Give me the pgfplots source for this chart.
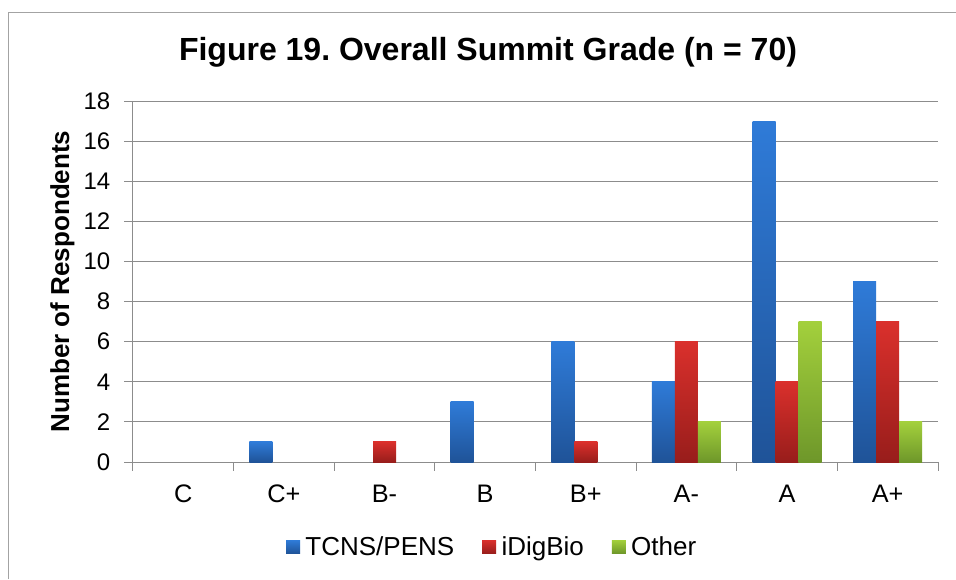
\documentclass[border=0pt]{standalone}
\usepackage{fontspec}
\setmainfont{Liberation Sans}
\usepackage{pgfplots}
\usepackage{pgfplotstable}
\pgfplotsset{compat=1.18}
\definecolor{bT}{HTML}{2F7BD8}
\definecolor{bB}{HTML}{1F5398}
\definecolor{rT}{HTML}{DA302C}
\definecolor{rB}{HTML}{981D1B}
\definecolor{gT}{HTML}{A3D03C}
\definecolor{gB}{HTML}{6E972A}
\definecolor{gridc}{HTML}{8C8C8C}
% x: 0=C 1=C+ 2=B- 3=B 4=B+ 5=A- 6=A 7=A+
\pgfplotstableread{
x y
0 0
1 1
2 0
3 3
4 6
5 4
6 17
7 9
}\tcns
\pgfplotstableread{
x y
0 0
1 0
2 1
3 0
4 1
5 6
6 4
7 7
}\idig
\pgfplotstableread{
x y
0 0
1 0
2 0
3 0
4 0
5 2
6 7
7 2
}\other
\begin{document}
\frenchspacing
\begin{tikzpicture}[x=0.75pt,y=-0.75pt]
\path[use as bounding box] (0,0) rectangle (956,579);
\draw[gridc!80, line width=0.75pt] (8,579) -- (8,12) -- (956,12);
\node[font=\fontsize{24}{28}\selectfont\bfseries] at (488,52) {Figure 19. Overall Summit Grade (n = 70)};
\begin{axis}[
  at={(99.75pt,-346.5pt)}, anchor=south west,
  width=603.75pt, height=270.75pt, scale only axis,
  xmin=-0.5, xmax=7.5, ymin=0, ymax=18,
  ytick={0,2,...,18},
  xtick={-0.5,0.5,...,7.5},
  xticklabels={C,C+,B-,B,B+,A-,A,A+,{}},
  xticklabel style={xshift=37.7pt, yshift=-7pt, font=\fontsize{19}{22}\selectfont},
  yticklabel style={xshift=-7pt, font=\fontsize{18}{21}\selectfont},
  axis lines*=left,
  axis line style={gridc, line width=0.75pt},
  tick style={gridc, line width=0.75pt},
  tick align=outside, major tick length=6.5pt,
  ymajorgrids, grid style={gridc, line width=0.75pt},
  ylabel={Number of Respondents},
  ylabel style={font=\fontsize{19.5}{22}\selectfont\bfseries, yshift=0pt},
  /pgf/number format/assume math mode=true,
  legend style={at={(0.4466,-0.235)}, anchor=center, legend columns=-1, draw=none,
    font=\fontsize{19.5}{22}\selectfont,
    /tikz/every even column/.append style={column sep=19pt},
    /tikz/every odd column/.append style={column sep=2pt}},
  legend image code/.code={\path[#1, draw=none] (0pt,-5pt) rectangle (10.5pt,5pt);},
  legend cell align=left,
  barA/.style={ybar, forget plot, draw=none, bar width=17.25pt, restrict y to domain=0.5:100},
]
\pgfplotsinvokeforeach{0,...,7}{
  \addplot[barA, bar shift=-17.25pt, top color=bT, bottom color=bB, restrict x to domain=#1:#1] table[x=x,y=y] {\tcns};
  \addplot[barA, bar shift=0pt, top color=rT, bottom color=rB, restrict x to domain=#1:#1] table[x=x,y=y] {\idig};
  \addplot[barA, bar shift=17.25pt, top color=gT, bottom color=gB, restrict x to domain=#1:#1] table[x=x,y=y] {\other};
}
\addlegendimage{top color=bT, bottom color=bB}
\addlegendentry{TCNS/PENS}
\addlegendimage{top color=rT, bottom color=rB}
\addlegendentry{iDigBio}
\addlegendimage{top color=gT, bottom color=gB}
\addlegendentry{Other}
\end{axis}
\end{tikzpicture}
\end{document}
